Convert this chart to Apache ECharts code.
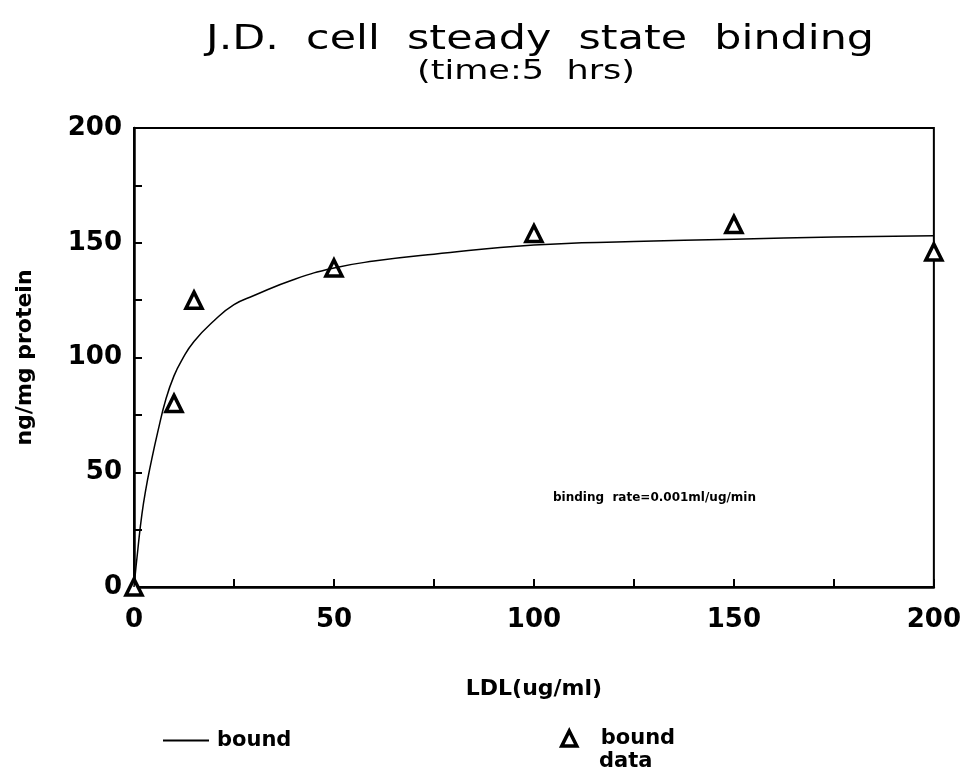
<!DOCTYPE html>
<html><head><meta charset="utf-8">
<script src="https://cdn.jsdelivr.net/npm/echarts@6/dist/echarts.min.js"></script>
<style>html,body{margin:0;padding:0;background:#fff}#c{width:964px;height:780px}</style>
</head><body><div id="c"></div>
<script>
// Data
const dataX = [0, 10, 15, 50, 100, 150, 200];
const dataY = [0, 80, 125, 139, 154, 158, 146];
const curveX = [0, 1, 2, 3, 4, 6, 8, 10, 12, 15, 20, 25, 30, 40, 50, 60, 75, 100, 125, 150, 175, 200];
const curveY = [0, 17, 32, 43, 52, 68, 82, 92, 99, 107, 116, 123, 127, 134, 139, 142, 145, 149, 150.5, 151.5, 152.5, 153];
const xTicks = [0, 50, 100, 150, 200];
const yTicks = [0, 50, 100, 150, 200];
const titleText = 'J.D.  cell  steady  state  binding';
const subText = '(time:5  hrs)';
const noteText = 'binding  rate=0.001ml/ug/min';

const F = 'DejaVu Sans';
const chart = echarts.init(document.getElementById('c'));
chart.setOption({
  animation: false,
  backgroundColor: '#fff',
  grid: {left: 134, right: 30, top: 128, bottom: 193, show: true, borderColor: '#000', borderWidth: 2, backgroundColor: 'transparent'},
  xAxis: {
    type: 'value', min: 0, max: 200, interval: 25,
    name: 'LDL(ug/ml)', nameLocation: 'middle', nameGap: 91,
    nameTextStyle: {fontFamily: F, fontSize: 22, fontWeight: 'bold', color: '#000'},
    axisLine: {lineStyle: {color: '#000', width: 2.5}},
    axisTick: {inside: true, length: 8, lineStyle: {color: '#000', width: 2}},
    splitLine: {show: false},
    axisLabel: {margin: 20, fontFamily: F, fontSize: 26, fontWeight: 'bold', color: '#000',
      formatter: v => xTicks.includes(v) ? String(v) : ''}
  },
  yAxis: {
    type: 'value', min: 0, max: 200, interval: 25,
    name: 'ng/mg protein', nameLocation: 'middle', nameGap: 98, nameRotate: 90,
    nameTextStyle: {fontFamily: F, fontSize: 22, fontWeight: 'bold', color: '#000'},
    axisLine: {show: true, lineStyle: {color: '#000', width: 2.5}},
    axisTick: {show: true, inside: true, length: 8, lineStyle: {color: '#000', width: 2}},
    splitLine: {show: false},
    axisLabel: {margin: 12, fontFamily: F, fontSize: 26, fontWeight: 'bold', color: '#000',
      formatter: v => yTicks.includes(v) ? String(v) : ''}
  },
  legend: [
    {data: [{name: 'bound', icon: 'rect'}], left: 158, top: 725, itemWidth: 46, itemHeight: 2,
     textStyle: {fontFamily: F, fontSize: 21, fontWeight: 'bold', color: '#000', padding: [0, 0, 0, 3]}},
    {data: ['bound data'], left: 555, top: 723, itemWidth: 15, itemHeight: 15,
     itemStyle: {borderWidth: 3.5, borderColor: '#000', color: '#fff'},
     formatter: () => 'bound',
     textStyle: {fontFamily: F, fontSize: 21, fontWeight: 'bold', color: '#000', padding: [0, 0, 0, 19]}}
  ],
  series: [
    {name: 'bound', type: 'line', symbol: 'none', smooth: true,
     data: curveX.map((x, i) => [x, curveY[i]]),
     lineStyle: {color: '#000', width: 1.5}, itemStyle: {color: '#000'}},
    {name: 'bound data', type: 'scatter', symbol: 'triangle', symbolSize: 16, clip: false,
     data: dataX.map((x, i) => [x, dataY[i]]),
     itemStyle: {color: '#fff', borderColor: '#000', borderWidth: 3.5, opacity: 1}}
  ],
  graphic: [
    {type: 'text', x: 540, y: 40, scaleX: 1.26,
     style: {text: titleText, align: 'center', verticalAlign: 'middle', font: '34px "DejaVu Sans"', fill: '#000'}},
    {type: 'text', x: 526, y: 72, scaleX: 1.3,
     style: {text: subText, align: 'center', verticalAlign: 'middle', font: '27px "DejaVu Sans"', fill: '#000'}},
    {type: 'text', x: 599, y: 762,
     style: {text: 'data', align: 'left', verticalAlign: 'middle', font: 'bold 21px "DejaVu Sans"', fill: '#000'}},
    {type: 'text', left: 553, top: 492,
     style: {text: noteText, font: 'bold 12px "DejaVu Sans"', fill: '#000'}}
  ]
});
</script></body></html>
